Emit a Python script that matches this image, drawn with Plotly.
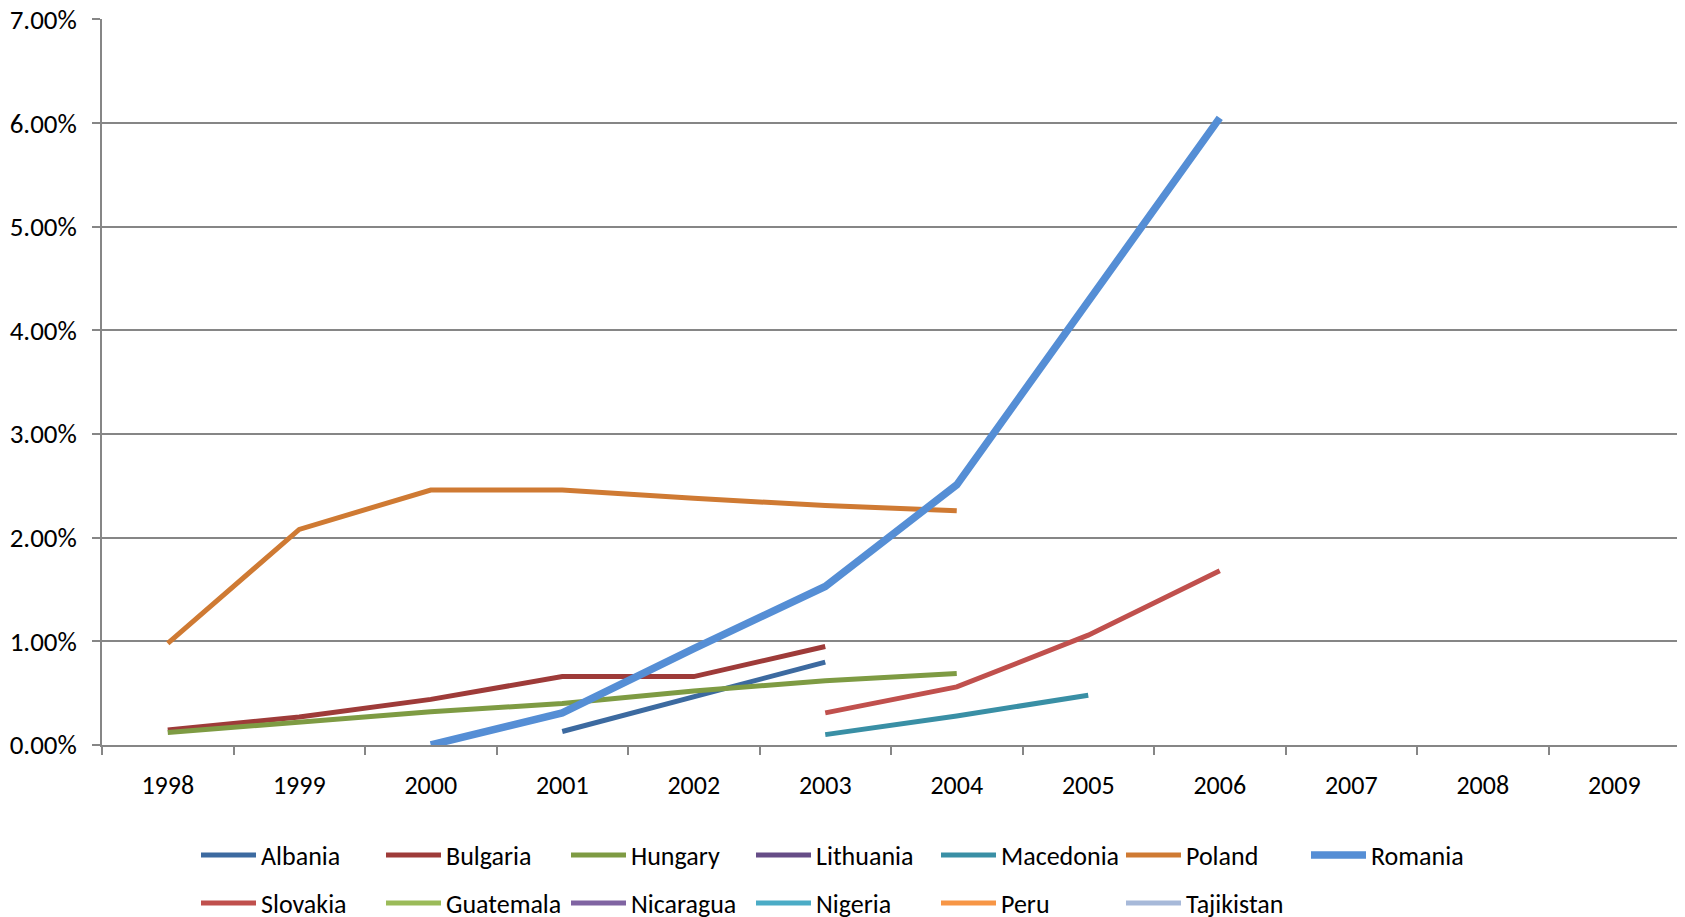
import plotly.graph_objects as go

years = ["1998", "1999", "2000", "2001", "2002", "2003", "2004", "2005", "2006", "2007", "2008", "2009"]
N = None

albania    = [N, N, N, 0.0013, 0.0047, 0.0080, N, N, N, N, N, N]
bulgaria   = [0.00145, 0.0027, 0.0044, 0.0066, 0.0066, 0.0095, N, N, N, N, N, N]
hungary    = [0.0012, 0.0022, 0.0032, 0.0040, 0.0052, 0.0062, 0.0069, N, N, N, N, N]
lithuania  = [N] * 12
macedonia  = [N, N, N, N, N, 0.0010, 0.0028, 0.0048, N, N, N, N]
poland     = [0.0098, 0.0208, 0.0246, 0.0246, 0.0238, 0.0231, 0.0226, N, N, N, N, N]
romania    = [N, N, 0.0000, 0.0031, 0.0093, 0.0153, 0.0251, 0.0428, 0.0605, N, N, N]
slovakia   = [N, N, N, N, N, 0.0031, 0.0056, 0.0106, 0.0168, N, N, N]
guatemala  = [N] * 12
nicaragua  = [N] * 12
nigeria    = [N] * 12
peru       = [N] * 12
tajikistan = [N] * 12

series_names = ["Albania", "Bulgaria", "Hungary", "Lithuania", "Macedonia", "Poland", "Romania",
                "Slovakia", "Guatemala", "Nicaragua", "Nigeria", "Peru", "Tajikistan"]
series_values = [albania, bulgaria, hungary, lithuania, macedonia, poland, romania,
                 slovakia, guatemala, nicaragua, nigeria, peru, tajikistan]
colors = ["#3C6AA0", "#9E3B39", "#7E9B43", "#664D87", "#398FA5", "#CF7A33", "#558ED5",
          "#C0504D", "#9BBB59", "#8064A2", "#4BACC6", "#F79646", "#A7B9D9"]

y_ticks = [0, 0.01, 0.02, 0.03, 0.04, 0.05, 0.06, 0.07]
y_tick_labels = ["0.00%", "1.00%", "2.00%", "3.00%", "4.00%", "5.00%", "6.00%", "7.00%"]

FONT = "Carlito, Lato, 'Liberation Sans', sans-serif"
FS = 26
W, H = 1677, 909

fig = go.Figure()
for i, (name, vals, col) in enumerate(zip(series_names, series_values, colors)):
    fig.add_trace(go.Scatter(
        x=years, y=vals, name=name, mode="lines",
        line=dict(color=col, width=7.5 if name == "Romania" else 5),
        connectgaps=False,
        legend="legend" if i < 7 else "legend2",
        showlegend=True,
    ))

grid = "#868686"
legend_common = dict(
    orientation="h", xref="container", yref="container",
    xanchor="left", yanchor="middle",
    entrywidth=115, entrywidthmode="pixels", font=dict(size=FS),
    itemwidth=55, traceorder="normal", bgcolor="rgba(0,0,0,0)",
)
fig.update_layout(
    width=W, height=H,
    margin=dict(l=94, r=5, t=11, b=172, autoexpand=False),
    plot_bgcolor="white", paper_bgcolor="white",
    font=dict(family=FONT, size=FS, color="black"),
    xaxis=dict(
        type="category", categoryorder="array", categoryarray=years,
        range=[-0.5, 11.5], tickson="boundaries", ticks="outside", ticklen=8,
        tickcolor=grid, tickwidth=1.5, showline=True, linecolor=grid, linewidth=1.5,
        showgrid=False, ticklabelstandoff=16, tickfont=dict(size=FS),
    ),
    yaxis=dict(
        range=[0, 0.07 * 1.0006], tickvals=y_ticks, ticktext=y_tick_labels,
        showgrid=True, gridcolor=grid, gridwidth=1.5,
        ticks="outside", ticklen=8, tickcolor=grid, tickwidth=1.5,
        showline=True, linecolor=grid, linewidth=1.5, zeroline=False,
        ticklabelstandoff=10, tickfont=dict(size=27), ticklabeloverflow="allow",
    ),
    legend=dict(legend_common, x=188 / W, y=1 - 847 / H),
    legend2=dict(legend_common, x=188 / W, y=1 - 895 / H),
)

fig.write_html("out.html")
